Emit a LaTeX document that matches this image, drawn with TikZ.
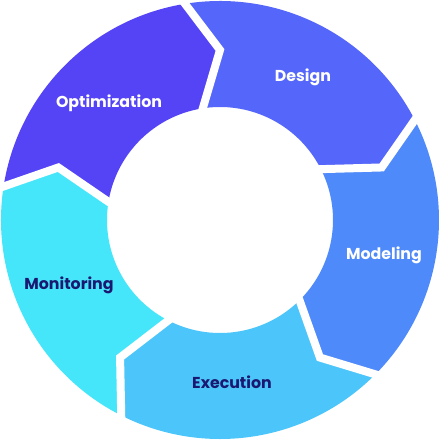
\documentclass[tikz,border=0pt]{standalone}
\usepackage{fontspec}
\setmainfont{Poppins}
\definecolor{cOpt}{HTML}{5444F6}
\definecolor{cDes}{HTML}{5566FA}
\definecolor{cMod}{HTML}{4F8AFA}
\definecolor{cExe}{HTML}{4CC6FA}
\definecolor{cMon}{HTML}{46E6FA}
\definecolor{navy}{HTML}{1A1870}
\tikzset{
  lbl/.style={font=\bfseries\fontsize{15.8}{18}\selectfont, inner sep=0pt},
  gapline/.style={draw=white, line width=8pt, line join=miter, line cap=butt}
}
\newcommand{\segm}[2]{%
  \fill[#2] (#1+10:219) arc[start angle=#1+10, end angle=#1-62, radius=219]
    -- (#1-72:170) -- (#1-62:113)
    arc[start angle=#1-62, end angle=#1+10, radius=113]
    -- (#1:170) -- cycle;}
\begin{document}
\begin{tikzpicture}[x=1pt,y=1pt]
\useasboundingbox (-220,-220) rectangle (220,220);
\segm{90}{cDes}
\segm{18}{cMod}
\segm{-54}{cExe}
\segm{-126}{cMon}
\segm{-198}{cOpt}
\foreach \t in {18,90,162,234,306}{
  \draw[gapline] (\t+10:225) -- (\t:170) -- (\t+10:108);
}
\node[lbl, text=white] (opt) at (-111,117) {Optimization};
\node[lbl, text=white] (des) at (83,143) {Design};
\node[lbl, text=white] (mod) at (164,-35) {Modeling};
\node[lbl, text=navy] (exe) at (12,-162) {Execution};
\node[lbl, text=navy] (mon) at (-151,-65) {Monitoring};
\end{tikzpicture}
\end{document}
